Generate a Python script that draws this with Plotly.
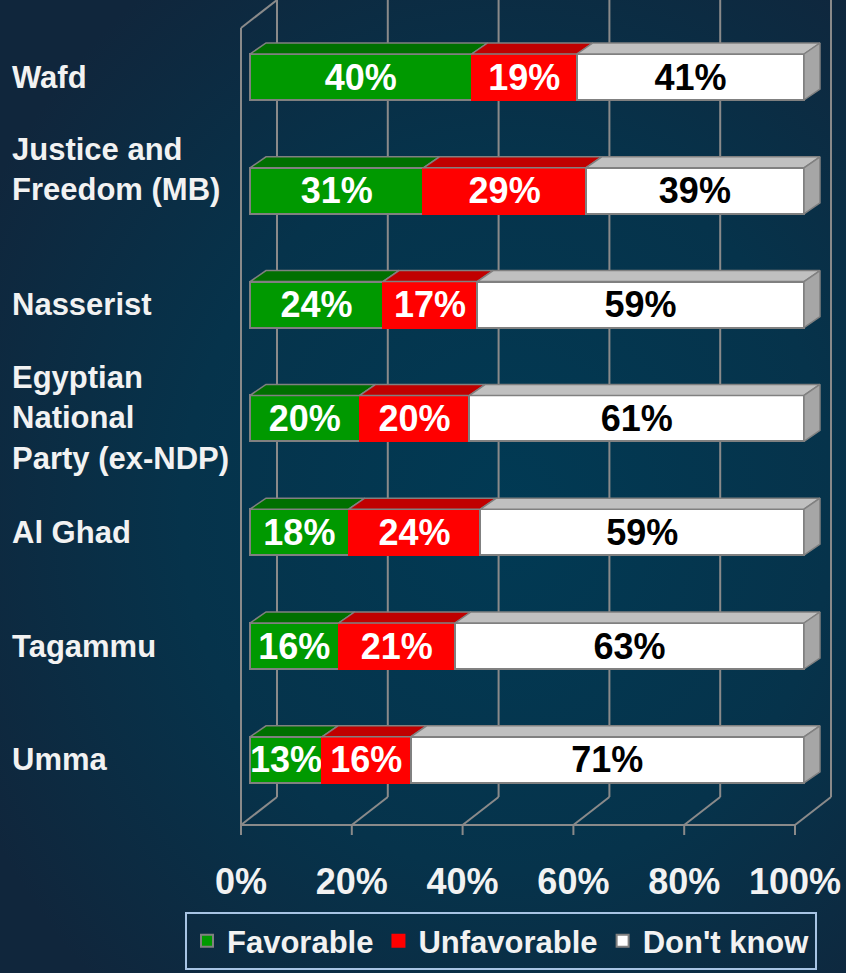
import plotly.graph_objects as go

# ---- data ----
parties = ["Wafd", "Justice and<br>Freedom (MB)", "Nasserist",
           "Egyptian<br>National<br>Party (ex-NDP)", "Al Ghad", "Tagammu", "Umma"]
favorable = [40, 31, 24, 20, 18, 16, 13]
unfavorable = [19, 29, 17, 20, 24, 21, 16]
dont_know = [41, 39, 59, 61, 59, 63, 71]
series_names = ["Favorable", "Unfavorable", "Don't know"]
tick_vals = [0, 20, 40, 60, 80, 100]
tick_text = ["0%", "20%", "40%", "60%", "80%", "100%"]

# ---- styling ----
FONT = "Liberation Sans, Arial, sans-serif"
front_colors = ["#009900", "#ff0000", "#ffffff"]
top_colors = ["#007000", "#c00000", "#c0c0c0"]
line_colors = ["#808080", "#ff0000", "#808080"]
text_colors = ["#ffffff", "#ffffff", "#000000"]
side_color = "#a6a6a6"
edge = "#808080"
grid = dict(color="#8a8a8a", width=2)

# pixel geometry of the fake 3d box
W, H = 846, 973
X0_PX = 250          # where 0% of the bar fronts sits
PX_PER_PCT = 5.54
ROW0_PX = 77         # centre of the first bar
ROW_PX = 113.8       # row pitch


def px_x(p):
    return p / PX_PER_PCT


def px_y(p):
    return p / ROW_PX


x_range = [-X0_PX / PX_PER_PCT, (W - X0_PX) / PX_PER_PCT]
y_range = [(H - ROW0_PX) / ROW_PX, -ROW0_PX / ROW_PX]

bar_w = px_y(46)
dx_bar, dy_bar = px_x(16), px_y(11)
dx_wall, dy_wall = px_x(36), px_y(28)
floor_dx = px_x(-9)
floor_y = px_y(825 - ROW0_PX)
wall_top = px_y(28 - ROW0_PX)

rows = list(range(len(parties)))
series = [favorable, unfavorable, dont_know]
totals = [sum(v) for v in zip(*series)]

fig = go.Figure()

# background gradient on its own subplot (drawn first)
fig.add_trace(go.Scatter(
    x=[-0.1, 1.3, 1.3, -0.1, -0.1], y=[-0.2, -0.2, 1.15, 1.15, -0.2],
    fill="toself", mode="lines", line=dict(width=0),
    fillgradient=dict(type="radial",
                      colorscale=[[0, "#013a54"], [0.55, "#06334b"], [1, "#10263c"]]),
    hoverinfo="skip", showlegend=False, xaxis="x", yaxis="y"))

# front faces
for k, vals in enumerate(series):
    fig.add_trace(go.Bar(
        y=rows, x=vals, orientation="h", name=series_names[k], width=bar_w,
        marker=dict(color=front_colors[k], line=dict(color=line_colors[k], width=2)),
        text=[f"{v}%" for v in vals], textposition="inside",
        insidetextanchor="middle", textangle=0, constraintext="none",
        textfont=dict(family=FONT, size=36, color=text_colors[k], weight="bold"),
        hoverinfo="skip", xaxis="x2", yaxis="y2"))

# top faces + right side, from the normalised stack
starts = [0.0] * len(rows)
for k, vals in enumerate(series):
    xs, ys = [], []
    for i in rows:
        a = starts[i]
        b = a + vals[i] * 100 / totals[i]
        ty = i - bar_w / 2
        xs += [a, b, b + dx_bar, a + dx_bar, a, None]
        ys += [ty, ty, ty - dy_bar, ty - dy_bar, ty, None]
        starts[i] = b
    fig.add_trace(go.Scatter(
        x=xs, y=ys, fill="toself", fillcolor=top_colors[k], mode="lines",
        line=dict(color=edge, width=1.5), hoverinfo="skip", showlegend=False,
        xaxis="x2", yaxis="y2"))

xs, ys = [], []
for i in rows:
    ty, by = i - bar_w / 2, i + bar_w / 2
    xs += [starts[i], starts[i] + dx_bar, starts[i] + dx_bar, starts[i], starts[i], None]
    ys += [ty, ty - dy_bar, by - dy_bar, by, ty, None]
fig.add_trace(go.Scatter(
    x=xs, y=ys, fill="toself", fillcolor=side_color, mode="lines",
    line=dict(color=edge, width=1.5), hoverinfo="skip", showlegend=False,
    xaxis="x2", yaxis="y2"))

# walls / floor / gridlines
shapes = []


def seg(x0, y0, x1, y1):
    shapes.append(dict(type="line", xref="x2", yref="y2", x0=x0, y0=y0,
                       x1=x1, y1=y1, line=grid, layer="below"))


for t in tick_vals:
    fx = t + floor_dx
    bx = fx + dx_wall
    seg(bx, y_range[1], bx, floor_y - dy_wall)
    seg(fx, floor_y, bx, floor_y - dy_wall)
    seg(fx, floor_y, fx, floor_y + px_y(10))
seg(floor_dx, floor_y, 100 + floor_dx, floor_y)
seg(floor_dx, floor_y, floor_dx, wall_top)
seg(floor_dx, wall_top, floor_dx + dx_wall, wall_top - dy_wall)

# category labels, left aligned
label_shift = {1: 21}
for i, p in enumerate(parties):
    fig.add_annotation(
        x=10 / W, xref="paper", y=i, yref="y2", text=p, showarrow=False,
        xanchor="left", yanchor="middle", align="left",
        yshift=label_shift.get(i, 0),
        font=dict(family=FONT, size=31, color="#f2f2f2", weight="bold"))

fig.update_layout(
    width=W, height=H,
    margin=dict(l=0, r=0, t=0, b=0),
    paper_bgcolor="#072c44", plot_bgcolor="rgba(0,0,0,0)",
    barmode="stack", barnorm="percent",
    shapes=shapes,
    xaxis=dict(domain=[0, 1], range=[0, 1], visible=False, fixedrange=True),
    yaxis=dict(domain=[0, 1], range=[0, 1], visible=False, fixedrange=True),
    xaxis2=dict(domain=[0, 1], range=x_range, anchor="free", position=1 - 857 / H,
                showgrid=False, zeroline=False, showline=False, ticks="",
                tickvals=tick_vals, ticktext=tick_text, ticklabelshift=-9,
                tickfont=dict(family=FONT, size=36, color="#f2f2f2", weight="bold")),
    yaxis2=dict(domain=[0, 1], range=y_range, anchor="x2", showgrid=False,
                zeroline=False, showticklabels=False),
    showlegend=True,
    legend=dict(orientation="h", x=185 / W, y=1 - 912 / H, xanchor="left",
                yanchor="top", bgcolor="rgba(0,0,0,0)", bordercolor="#a7c4e4",
                borderwidth=2, itemwidth=30, traceorder="normal",
                font=dict(family=FONT, size=31, color="#f2f2f2", weight="bold")),
)

fig.write_html("out.html", config={"displayModeBar": False},
               post_script="document.body.style.margin='0';")
